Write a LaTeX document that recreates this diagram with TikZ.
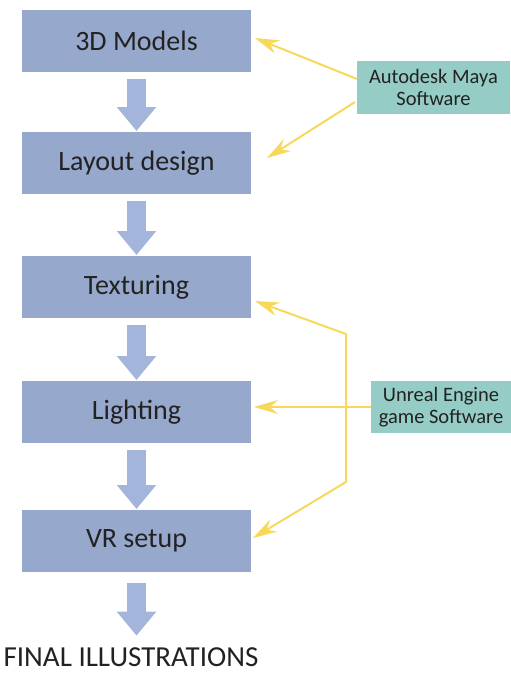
\documentclass[tikz,border=0pt]{standalone}
\usepackage{fontspec}
\setmainfont{Carlito}
\usetikzlibrary{positioning, arrows.meta}

\definecolor{stagefill}{RGB}{150,168,204}
\definecolor{flowfill}{RGB}{163,181,219}
\definecolor{toolfill}{RGB}{149,204,198}
\definecolor{linkyellow}{RGB}{246,217,90}
\definecolor{inkgray}{RGB}{34,34,34}

\tikzset{
    stage/.style={fill=stagefill, draw=none, minimum width=229pt, minimum height=62pt, inner sep=0pt, outer sep=0pt, text=inkgray, font=\fontsize{28}{32}\selectfont},
    tool/.style={fill=toolfill, draw=none, minimum width=140pt, inner sep=0pt, outer sep=0pt, align=center, text=inkgray, font=\fontsize{20.5}{22.5}\selectfont},
    flow/.style={draw=flowfill, line width=19pt, -{Triangle[length=24pt, width=38pt]}},
    link/.style={draw=linkyellow, line width=2pt, -{Stealth[length=24pt, width=14pt, inset=8pt]}},
}

\begin{document}
\begin{tikzpicture}[x=1pt, y=1pt]
        % Page frame
        \useasboundingbox (0,0) rectangle (511,-677);

        %%% Stages
            \node[stage] (models) at (136.5,-41) {3D Models};
            \node[stage, below=60pt of models] (layout) {Layout design};
            \node[stage, below=62pt of layout] (texturing) {Texturing};
            \node[stage, below=63pt of texturing] (lighting) {Lighting};
            \node[stage, below=67pt of lighting] (vrsetup) {VR setup};

            % Final text below the last stage
            \node[text=inkgray, font=\fontsize{29}{33}\selectfont, anchor=base] (final) at (131,-666) {FINAL ILLUSTRATIONS};

        %%% Block arrows between stages
            \foreach \from/\to in {models/layout, layout/texturing, texturing/lighting, lighting/vrsetup}
                \draw[flow] ([yshift=-7pt]\from.south) -- ([yshift=1pt]\to.north);
            \draw[flow] ([yshift=-11pt]vrsetup.south) -- ([xshift=5.5pt, yshift=8pt]final.north);

        %%% Software boxes
            \node[tool, minimum width=153pt, minimum height=53pt] (maya) at (433.5,-87.5) {Autodesk Maya\\Software};
            \node[tool, minimum height=52pt] (unreal) at (441,-407) {Unreal Engine\\game Software};

        %%% Maya links
            \draw[link] ([yshift=8.5pt]maya.west) -- ([xshift=4pt, yshift=3pt]models.east);
            \draw[link] ([xshift=-2pt, yshift=-14.5pt]maya.west) -- ([xshift=16pt, yshift=5pt]layout.east);

        %%% Unreal links
            \coordinate (ubend) at (346,-334);
            \coordinate (lbend) at (346,-482);
            \draw[link] (unreal.west) -- ([xshift=3pt]unreal.west -| lighting.east);
            \draw[link, {Stealth[length=24pt, width=14pt, inset=8pt]}-{Stealth[length=24pt, width=14pt, inset=8pt]}] ([xshift=4pt, yshift=-14pt]texturing.east) -- (ubend) -- (lbend) -- ([xshift=2pt, yshift=3pt]vrsetup.east);
\end{tikzpicture}
\end{document}
